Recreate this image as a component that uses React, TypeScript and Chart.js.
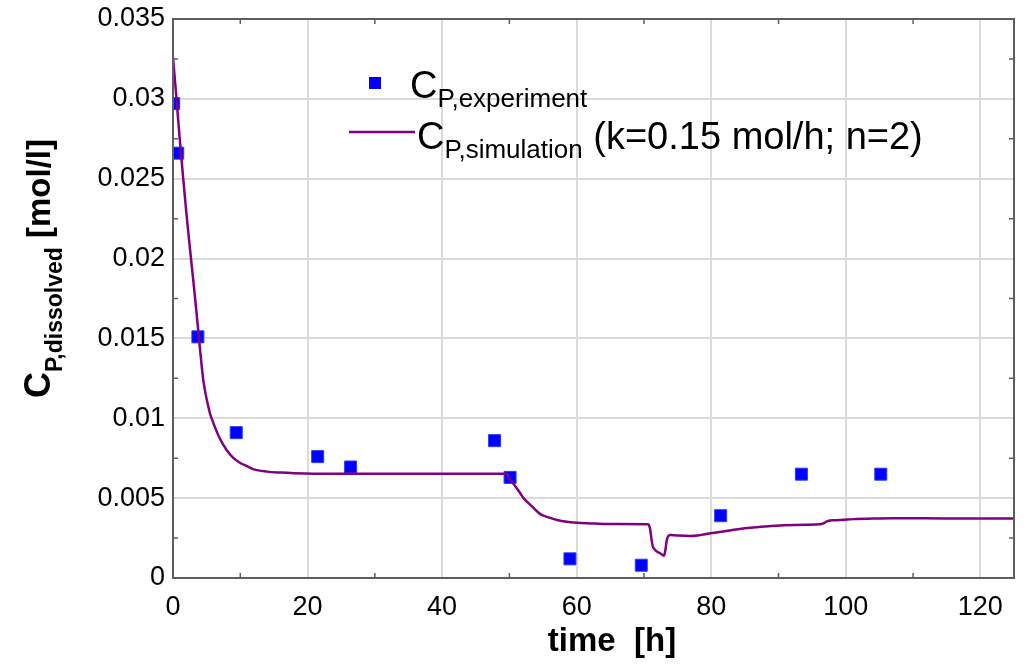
import React, { useEffect, useRef } from "react";
import { Chart, registerables } from "chart.js";

Chart.register(...registerables);

// Experimental data (time [h], concentration [mol/l])
const expTime = [0.1, 0.7, 3.7, 9.4, 21.5, 26.4, 47.8, 50.1, 59.0, 69.6, 81.4, 93.4, 105.2];
const expConc = [0.0297, 0.0266, 0.0151, 0.0091, 0.0076, 0.00695, 0.0086, 0.0063, 0.0012, 0.0008, 0.0039, 0.0065, 0.0065];

// Simulation curve
const simTime = [
  0, 0.5, 1, 1.5, 2, 2.5, 3, 3.5, 4, 4.5,
  5, 5.5, 6, 7, 8, 9, 10, 11, 12, 14,
  16, 18, 21, 30, 40, 49.6, 50, 50.6, 51.3, 52.1,
  53.4, 54.6, 55.8, 57.1, 58.5, 60, 62, 64.5, 70.6, 70.9,
  71.1, 71.3, 71.6, 71.9, 72.4, 73.0, 73.2, 73.4, 73.9, 75,
  76.9, 78.5, 79.9, 82, 84, 85.8, 88, 90.8, 94, 96.2,
  96.8, 97.2, 98.5, 100.2, 101.5, 103.2, 107, 115, 125,
];
const simConc = [
  0.0326, 0.0301, 0.0275, 0.0251, 0.0228, 0.0207, 0.0187, 0.0166, 0.0144, 0.0124,
  0.0112, 0.0103, 0.0097, 0.0087, 0.0080, 0.0075, 0.0072, 0.0070, 0.0068, 0.00666,
  0.0066, 0.00656, 0.00653, 0.00652, 0.00652, 0.00652, 0.0062, 0.0059, 0.0055, 0.0050,
  0.00447, 0.0040, 0.0038, 0.00363, 0.00352, 0.00346, 0.00342, 0.00338, 0.00337, 0.0031,
  0.0025, 0.0020, 0.00178, 0.00166, 0.00155, 0.0014, 0.0018, 0.0024, 0.0027, 0.00266,
  0.00263, 0.0027, 0.0028, 0.00293, 0.00305, 0.00314, 0.00322, 0.0033, 0.00334, 0.00336,
  0.00345, 0.00355, 0.00362, 0.00367, 0.00369, 0.00371, 0.00374, 0.00373, 0.00372,
];

// Axis ticks
const xTickValues = [0, 20, 40, 60, 80, 100, 120];
const yTickValues = [0, 0.005, 0.01, 0.015, 0.02, 0.025, 0.03, 0.035];
const xMinorTicks = [10, 30, 50, 70, 90, 110];
const yMinorTicks = [0.0025, 0.0075, 0.0125, 0.0175, 0.0225, 0.0275, 0.0325];

// Texts
const xTitle = "time  [h]";
const yTitleMain = "C";
const yTitleSub = "P,dissolved";
const yTitleUnit = " [mol/l]";
const legExpMain = "C";
const legExpSub = "P,experiment";
const legSimMain = "C";
const legSimSub = "P,simulation";
const legSimRest = " (k=0.15 mol/h; n=2)";

const FONT = "'Liberation Sans', Arial, sans-serif";
const BLUE = "#0000ff";
const PURPLE = "#800080";

export default function App() {
  const ref = useRef<HTMLCanvasElement>(null);

  useEffect(() => {
    document.body.style.margin = "0";
    const canvas = ref.current;
    if (!canvas) return;

    const decorPlugin = {
      id: "decor",
      afterDraw(chart: any) {
        const { ctx, chartArea: a, scales } = chart;
        ctx.save();
        // frame
        ctx.strokeStyle = "#5e5e5e";
        ctx.lineWidth = 2;
        ctx.strokeRect(a.left, a.top, a.right - a.left, a.bottom - a.top);
        // minor inward ticks
        ctx.lineWidth = 1.5;
        ctx.beginPath();
        for (const v of xMinorTicks) {
          const x = scales.x.getPixelForValue(v);
          ctx.moveTo(x, a.bottom);
          ctx.lineTo(x, a.bottom - 5);
          ctx.moveTo(x, a.top);
          ctx.lineTo(x, a.top + 5);
        }
        for (const v of yMinorTicks) {
          const y = scales.y.getPixelForValue(v);
          ctx.moveTo(a.left, y);
          ctx.lineTo(a.left + 5, y);
          ctx.moveTo(a.right, y);
          ctx.lineTo(a.right - 5, y);
        }
        ctx.stroke();

        // x title
        ctx.fillStyle = "#000";
        ctx.textBaseline = "alphabetic";
        ctx.textAlign = "center";
        ctx.font = `bold 33px ${FONT}`;
        ctx.fillText(xTitle, 612, 651);

        // y title (rotated)
        ctx.save();
        ctx.translate(50, 398);
        ctx.rotate(-Math.PI / 2);
        ctx.textAlign = "left";
        ctx.font = `bold 36px ${FONT}`;
        ctx.fillText(yTitleMain, 0, 0);
        let w = ctx.measureText(yTitleMain).width;
        ctx.font = `bold 23px ${FONT}`;
        ctx.fillText(yTitleSub, w, 12);
        w += ctx.measureText(yTitleSub).width;
        ctx.font = `bold 33px ${FONT}`;
        ctx.fillText(yTitleUnit, w, 0);
        ctx.restore();

        // legend
        ctx.textAlign = "left";
        ctx.fillStyle = BLUE;
        ctx.fillRect(369, 77, 12, 12);
        ctx.strokeStyle = PURPLE;
        ctx.lineWidth = 2.5;
        ctx.beginPath();
        ctx.moveTo(349, 132);
        ctx.lineTo(415, 132);
        ctx.stroke();

        ctx.fillStyle = "#000";
        ctx.font = `38px ${FONT}`;
        ctx.fillText(legExpMain, 410, 98);
        let lw = ctx.measureText(legExpMain).width;
        ctx.font = `26px ${FONT}`;
        ctx.fillText(legExpSub, 410 + lw, 107);

        ctx.font = `38px ${FONT}`;
        ctx.fillText(legSimMain, 417, 149);
        lw = ctx.measureText(legSimMain).width;
        ctx.font = `26px ${FONT}`;
        ctx.fillText(legSimSub, 417 + lw, 158);
        lw += ctx.measureText(legSimSub).width;
        ctx.font = `38px ${FONT}`;
        ctx.fillText(legSimRest, 417 + lw, 149);

        ctx.restore();
      },
    };

    const chart = new Chart(canvas, {
      type: "scatter",
      data: {
        datasets: [
          {
            label: "simulation",
            type: "line",
            data: simTime.map((t, i) => ({ x: t, y: simConc[i] })),
            borderColor: PURPLE,
            borderWidth: 2.5,
            pointRadius: 0,
            cubicInterpolationMode: "monotone",
            fill: false,
            clip: 0,
            order: 0,
          } as any,
          {
            label: "experiment",
            data: expTime.map((t, i) => ({ x: t, y: expConc[i] })),
            pointStyle: "rect",
            pointRadius: 8.5,
            backgroundColor: BLUE,
            borderColor: "#2a3cff",
            borderWidth: 1,
            showLine: false,
            clip: 0,
            order: 1,
          } as any,
        ],
      },
      options: {
        responsive: false,
        animation: false,
        devicePixelRatio: 1,
        layout: { padding: { left: 0, right: 11, top: 19, bottom: 0 } },
        plugins: {
          legend: { display: false },
          tooltip: { enabled: false },
          title: { display: false },
        },
        scales: {
          x: {
            type: "linear",
            min: 0,
            max: 125,
            afterBuildTicks: (s: any) => {
              s.ticks = xTickValues.map((v) => ({ value: v }));
            },
            afterFit: (s: any) => {
              s.height = 87;
              s.paddingLeft = 0;
              s.paddingRight = 0;
            },
            ticks: {
              color: "#000",
              font: { family: FONT, size: 27 },
              padding: 13,
              maxRotation: 0,
              autoSkip: false,
            },
            grid: { color: "#dadada", lineWidth: 2, drawTicks: false },
            border: { display: false },
          },
          y: {
            type: "linear",
            min: 0,
            max: 0.035,
            afterBuildTicks: (s: any) => {
              s.ticks = yTickValues.map((v) => ({ value: v }));
            },
            afterFit: (s: any) => {
              s.width = 173;
              s.paddingTop = 0;
              s.paddingBottom = 0;
            },
            ticks: {
              color: "#000",
              font: { family: FONT, size: 27 },
              padding: 8,
              autoSkip: false,
              callback: (v: any) => {
                const n = Number(v);
                return n === 0 ? "0" : String(parseFloat(n.toFixed(4)));
              },
            },
            grid: { color: "#dadada", lineWidth: 2, drawTicks: false },
            border: { display: false },
          },
        },
      },
      plugins: [decorPlugin],
    });

    return () => chart.destroy();
  }, []);

  return (
    <div style={{ width: 1025, height: 665, background: "#fff" }}>
      <canvas ref={ref} width={1025} height={665} style={{ display: "block" }} />
    </div>
  );
}
